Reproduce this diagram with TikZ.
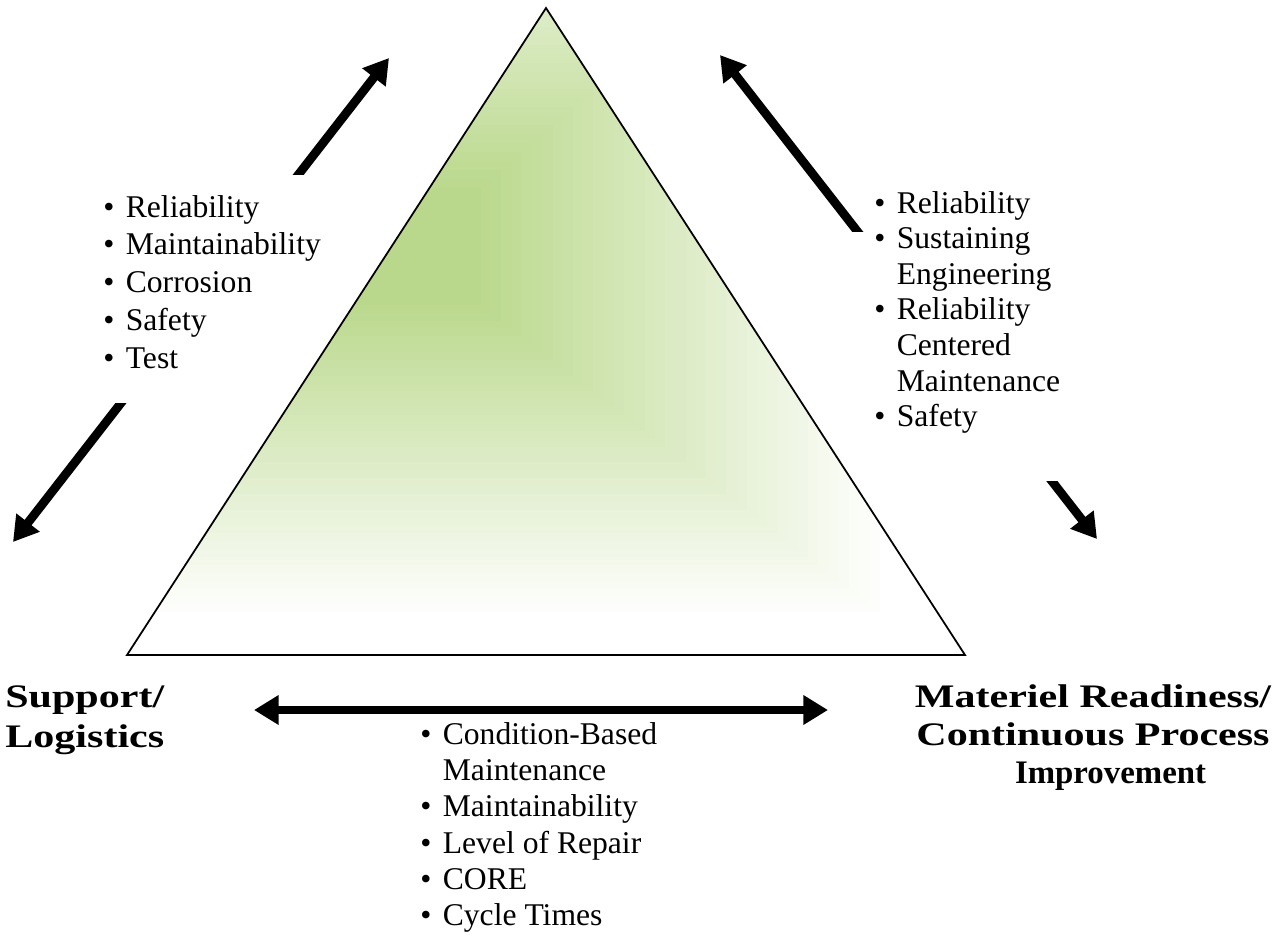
\documentclass[tikz,border=0pt]{standalone}
\usepackage{fontspec}
\setmainfont{Liberation Serif}
\newfontfamily\headfont{Liberation Serif}[FakeStretch=1.28]
\usetikzlibrary{arrows.meta}

\definecolor{greenA}{RGB}{186,216,140}

\tikzset{
  bigarrow/.style={line width=5pt,{Triangle[length=14pt,width=16pt]}-{Triangle[length=14pt,width=16pt]}},
  mask/.style={fill=white},
  listtext/.style={anchor=base west,inner sep=0pt},
  headtext/.style={inner sep=0pt}
}

\begin{document}
\begin{tikzpicture}[x=0.02cm,y=-0.02cm]

\def\BUL{\textbullet}
\def\GAP{@{\hspace{6.5pt}}}
	\useasboundingbox (0,0) rectangle (1285,943);

	% arrows, partly hidden by the lists
	\coordinate (ltop) at (389,58);
	\coordinate (lbot) at (13,542);
	\coordinate (rtop) at (720,55);
	\coordinate (rbot) at (1097,539);
	\coordinate (bleft) at (254,710);
	\coordinate (bright) at (828,710);
	\draw[bigarrow] (lbot) -- (ltop);
	\draw[bigarrow] (rtop) -- (rbot);
	\draw[bigarrow] (bleft) -- (bright);
	\fill[mask] (95,175) rectangle (335,403);
	\fill[mask] (845,232) rectangle (1075,481);

	% triangle, green fading to white
	\coordinate (apex) at (546,8);
	\coordinate (bl) at (127,655);
	\coordinate (br) at (965,655);
	\begin{scope}
		\clip (apex) -- (bl) -- (br) -- cycle;
		\foreach \i in {0,...,40}{
			\pgfmathsetmacro\t{1-0.0213*\i}
			\pgfmathsetmacro\mix{min(100,100*(1-\t)/0.85)}
			\fill[greenA!\mix!white] ({410-430*\t},{250-420*\t}) rectangle ({410+480*\t},{250+370*\t});
		}
	\end{scope}
	\draw[line width=1pt,line join=miter] (apex) -- (bl) -- (br) -- cycle;

	% lists
	\node[listtext,font={\fontsize{18}{21.6}\selectfont}] (leftlist) at (103,217) {\begin{tabular}[t]{@{}l\GAP l@{}}
		\BUL & Reliability\\
		\BUL & Maintainability\\
		\BUL & Corrosion\\
		\BUL & Safety\\
		\BUL & Test
	\end{tabular}};
	\node[listtext,font={\fontsize{18}{20.3}\selectfont}] (rightlist) at (874,213) {\begin{tabular}[t]{@{}l\GAP l@{}}
		\BUL & Reliability\\
		\BUL & Sustaining\\
		     & Engineering\\
		\BUL & Reliability\\
		     & Centered\\
		     & Maintenance\\
		\BUL & Safety
	\end{tabular}};
	\node[listtext,font={\fontsize{18}{20.7}\selectfont}] (bottomlist) at (420,744) {\begin{tabular}[t]{@{}l\GAP l@{}}
		\BUL & Condition-Based\\
		     & Maintenance\\
		\BUL & Maintainability\\
		\BUL & Level of Repair\\
		\BUL & CORE\\
		\BUL & Cycle Times
	\end{tabular}};

	% corner labels
	\node[headtext,anchor=base west,font={\headfont\bfseries\fontsize{18.7}{23.3}\selectfont}] (support) at (5,707) {\begin{tabular}[t]{@{}l@{}}
		Support/\\
		Logistics
	\end{tabular}};
	\node[headtext,anchor=base,font={\headfont\bfseries\fontsize{18.7}{21.8}\selectfont}] (materiel) at (1093,707) {\begin{tabular}[t]{@{}c@{}}
		Materiel Readiness/\\
		Continuous Process\\
		\hspace{20pt}{\rmfamily\bfseries Improvement}
	\end{tabular}};

\end{tikzpicture}
\end{document}
